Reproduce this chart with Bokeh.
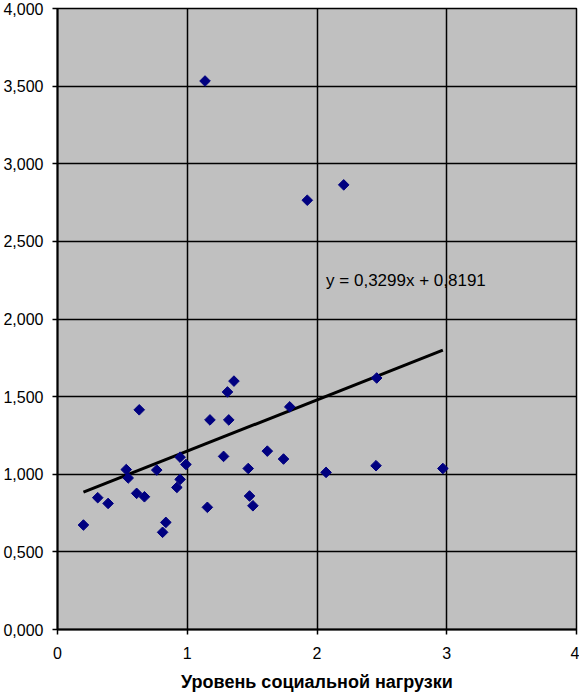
from bokeh.plotting import figure
from bokeh.models import Label, FixedTicker, Range1d, ColumnDataSource
from bokeh.embed import file_html
from bokeh.resources import INLINE
import math

# data
social_load = [0.20, 0.31, 0.39, 0.53, 0.545, 0.63, 0.61, 0.67, 0.765, 0.81, 0.835,
               0.945, 0.92, 0.945, 0.99, 1.137, 1.155, 1.175, 1.28, 1.31, 1.32, 1.36,
               1.47, 1.48, 1.506, 1.617, 1.742, 1.79, 1.925, 2.07, 2.206, 2.46, 2.455, 2.97]
values = [0.673, 0.849, 0.812, 1.03, 0.976, 1.415, 0.877, 0.855, 1.027, 0.626, 0.69,
          1.11, 0.915, 0.967, 1.063, 3.533, 0.787, 1.35, 1.115, 1.53, 1.35, 1.60,
          1.037, 0.86, 0.797, 1.149, 1.098, 1.434, 2.765, 1.012, 2.864, 1.62, 1.055, 1.037]
slope = 0.3299
intercept = 0.8191
x_ticks = [0, 1, 2, 3, 4]
x_tick_labels = ["0", "1", "2", "3", "4"]
y_ticks = [0, 0.5, 1, 1.5, 2, 2.5, 3, 3.5, 4]
y_tick_labels = ["0,000", "0,500", "1,000", "1,500", "2,000", "2,500", "3,000", "3,500", "4,000"]
equation_text = "y = 0,3299x + 0,8191"
x_title = "Уровень социальной нагрузки"

FONT = "Liberation Sans"

p = figure(frame_width=519, frame_height=621, output_backend="svg", toolbar_location=None,
           x_range=Range1d(0, 4), y_range=Range1d(0, 4),
           min_border_left=56, min_border_right=3, min_border_top=8, min_border_bottom=66)

p.background_fill_color = "#C0C0C0"
p.border_fill_color = "white"
p.outline_line_color = "black"
p.outline_line_width = 1.5

for ax in (p.xaxis, p.yaxis):
    ax.axis_line_color = "black"
    ax.axis_line_width = 2
    ax.major_tick_line_color = "black"
    ax.major_tick_line_width = 1.5
    ax.major_tick_out = 5
    ax.major_tick_in = 0
    ax.minor_tick_line_color = None
    ax.major_label_text_font = FONT
    ax.major_label_text_color = "black"

p.xaxis.ticker = FixedTicker(ticks=x_ticks)
p.xaxis.major_label_overrides = {t: l for t, l in zip(x_ticks, x_tick_labels)}
p.xaxis.major_label_text_font_size = "16px"
p.xaxis.major_label_standoff = 12
p.xaxis.axis_label = x_title
p.xaxis.axis_label_text_font = FONT
p.xaxis.axis_label_text_font_style = "bold"
p.xaxis.axis_label_text_font_size = "18px"
p.xaxis.axis_label_text_color = "black"
p.xaxis.axis_label_standoff = 10

p.yaxis.ticker = FixedTicker(ticks=y_ticks)
p.yaxis.major_label_overrides = {t: l for t, l in zip(y_ticks, y_tick_labels)}
p.yaxis.major_label_text_font_size = "16px"
p.yaxis.major_label_standoff = 9

p.xgrid.ticker = FixedTicker(ticks=x_ticks)
p.ygrid.ticker = FixedTicker(ticks=y_ticks)
for g in (p.xgrid, p.ygrid):
    g.grid_line_color = "black"
    g.grid_line_width = 1.5

# trend line computed from the fitted equation across the data's x extent
x0, x1 = min(social_load), max(social_load)
p.line([x0, x1], [slope * x0 + intercept, slope * x1 + intercept],
       line_color="black", line_width=3)

src = ColumnDataSource(dict(x=social_load, y=values))
p.scatter("x", "y", source=src, marker="square", size=7.5, angle=math.pi / 4,
          fill_color="#000080", line_color="#000080")

p.add_layout(Label(x=2.07, y=2.25, text=equation_text, text_font=FONT,
                   text_font_size="17px", text_color="black",
                   text_align="left", text_baseline="middle"))

open("out.html", "w").write(file_html(p, INLINE))
